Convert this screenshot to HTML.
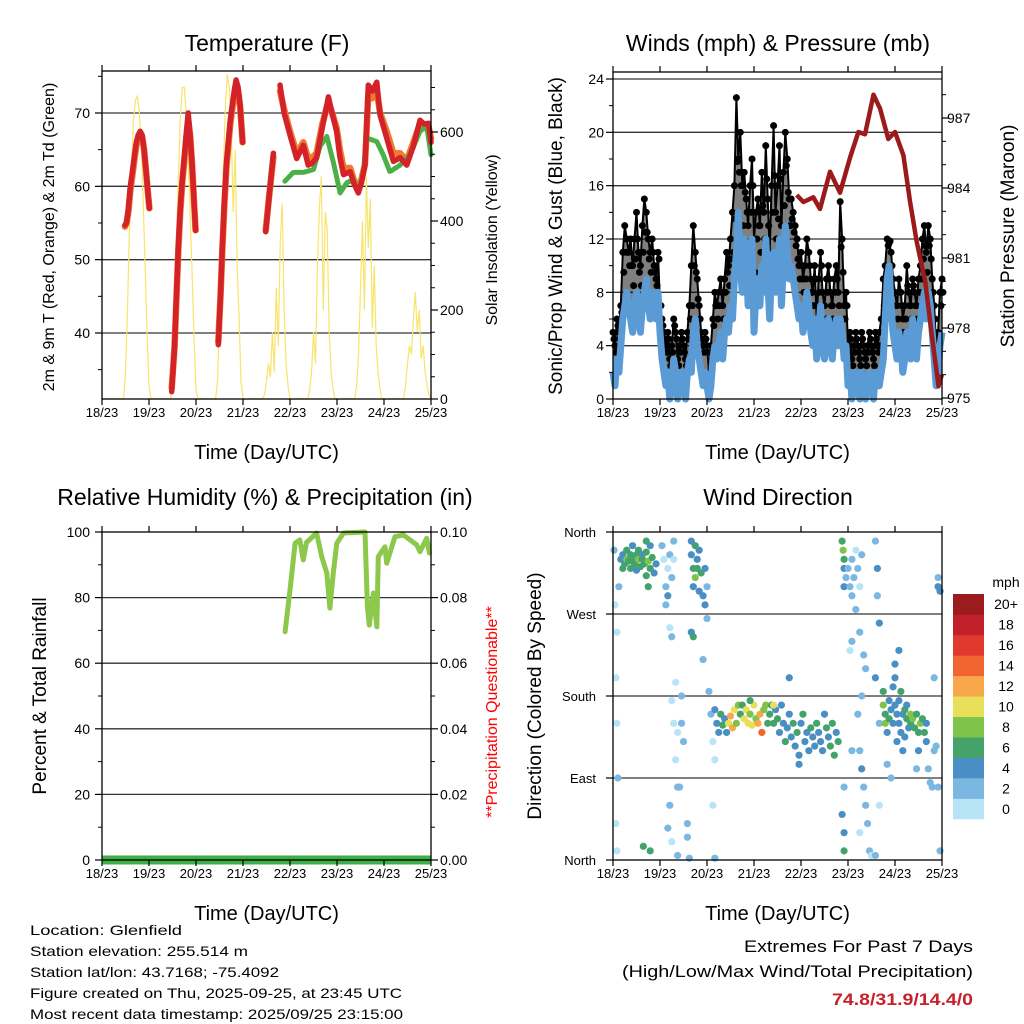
<!DOCTYPE html>
<html><head><meta charset="utf-8"><style>
html,body{margin:0;padding:0;background:#fff;}
svg{display:block;font-family:"Liberation Sans",Arial,sans-serif;}
</style></head><body>
<svg id="chart" width="1024" height="1024" viewBox="0 0 1024 1024" xmlns="http://www.w3.org/2000/svg">
<rect x="0" y="0" width="1024" height="1024" fill="#fff"/>
<g id="layer"></g>
<g font-size="14" fill="#000">
<text x="30" y="935" textLength="152" lengthAdjust="spacingAndGlyphs">Location: Glenfield</text>
<text x="30" y="956" textLength="218" lengthAdjust="spacingAndGlyphs">Station elevation: 255.514 m</text>
<text x="30" y="977" textLength="249" lengthAdjust="spacingAndGlyphs">Station lat/lon: 43.7168; -75.4092</text>
<text x="30" y="998" textLength="372" lengthAdjust="spacingAndGlyphs">Figure created on Thu, 2025-09-25, at 23:45 UTC</text>
<text x="30" y="1019" textLength="373" lengthAdjust="spacingAndGlyphs">Most recent data timestamp: 2025/09/25 23:15:00</text>
</g>
<g text-anchor="end">
<text x="973" y="952" font-size="17" textLength="229" lengthAdjust="spacingAndGlyphs">Extremes For Past 7 Days</text>
<text x="973" y="977" font-size="17" textLength="351" lengthAdjust="spacingAndGlyphs">(High/Low/Max Wind/Total Precipitation)</text>
<text x="973" y="1005" font-size="17" font-weight="bold" fill="#c8202a" textLength="141" lengthAdjust="spacingAndGlyphs">74.8/31.9/14.4/0</text>
</g>
</svg>
<script>
// ---------- DATA ----------
const dayLabels = ["18/23","19/23","20/23","21/23","22/23","23/23","24/23","25/23"];
// Temperature (hours since 18/23, deg F). null = gap
const tempHours = [11.7,12.5,13.5,14.5,15.5,16.5,17.5,18.5,19.5,20.5,21.5,22.5,23.5,24.2,null,
 35.6,37,38,39,40,41,42,43,44,45,46,47,47.8,null,
 59.4,60.5,61.5,62.5,63.5,64.5,65.5,66.5,67.5,68.5,69.5,70.5,71.8,null,
 83.6,85.5,87.5,null,90.9,93,96,99.4,102.8,105.3,107.5,109.6,112.5,115.6,117.5,119.8,121.5,123.3,126.7,128.5,130.9,132.5,134.3,136,138,140.3,142,145.4,148.8,152.2,155.6,159,162.4,164.5,166.7,168];
const tempRed = [54.7,55,57,60,62,64,66,67,67.5,67,65,62,59,57,null,
 32,38,45,52,57,61,64,67,70,67,63,58,54,null,
 38.4,45,52,58,63,66,69,71,73,74.5,73.5,71,66,null,
 53.8,59,64.5,null,73.8,70,67,63.8,65.6,62.9,63.2,63.9,68,72.2,70,67.5,64,61.6,62,60.5,59.1,60.5,62.9,73.8,73,74.2,69.7,66.6,63.4,63.9,62.9,65.5,69,68.5,68.6,66];
const tempOrange = [54.5,55,56.5,59.5,61.5,63.5,65.5,66.5,67,66.8,65,62,59,57,null,
 32.5,38,44.5,51.5,56.5,60.5,63.5,66.5,69,67,63,58,54,null,
 38.8,45,51.5,57.5,62.5,65.5,68.5,70.5,72,73.5,73,71,66,null,
 54,59,64,null,73,70.5,67.5,64.5,66,63.8,64,64.5,68.5,71.5,70,68,65,62.5,62.5,61,59.5,61,63,72.5,72,73,70,67.5,64.5,64.5,63.5,66,68.5,68.3,68.2,66.5];
const dewHours = [93.4,97.7,102.8,108,111.4,114.8,118.2,121.6,125,128.4,130.9,133.4,135.1,140.3,143.6,147,152.2,157.3,162.4,165.8,168];
const dewValues = [60.7,61.9,61.9,62.3,65.5,66.8,63.2,59.1,60.5,60.9,59.1,61.6,66.6,66.1,64.3,62,62.9,64.3,67.5,68.2,64.3];
// Solar insolation, hourly from h0..168
const solar = [0,0,0,0,0,0,0,0,0,0,0,0,60,200,380,520,620,670,680,650,570,450,300,150,30,
 0,0,0,0,0,0,0,0,0,0,0,50,180,350,500,630,700,700,640,530,420,280,140,20,
 0,0,0,0,0,0,0,0,0,0,40,180,360,520,660,730,700,600,420,560,300,180,40,
 0,0,0,0,0,0,0,0,0,0,0,10,40,80,50,150,60,250,120,350,440,200,80,30,0,
 0,0,0,0,0,0,0,0,0,20,60,150,80,300,430,500,200,420,380,150,60,20,
 0,0,0,0,0,0,0,0,0,0,0,30,100,250,400,200,500,340,450,160,300,120,60,20,
 0,0,0,0,0,0,0,0,0,0,0,0,30,80,120,100,180,240,150,200,90,120,60,30,10,0];
// Winds hourly h0..168 (mph)
const windSpeed = [2,1,3,2,4, 6,7,8,7, 6,5,7,8,6,5,7,8,9,7,6,8,7,6,8,5,
 3,2,1,2,0,1,3,2,0,1,2,1,0,2,3,2, 5,6,4,3,2,1, 2,1,0,1,3,4,3, 4,5,3,5,6,5,7,6,
 9,11,14,10,8,12,11,7,10,12,5,8, 9,7,10,8,12,9,6,10,11,8,9,12,7,10,13,11,9,
 10,9,8,7,6,7,5,6,8,7, 5,4,6,3,5,7,4,3,5,6,4,3,5,6,4,6,5,3,4,
 1,2,0,1,2,1,0,2,1,0,1,2,1,0,2,1,1,2,3, 6,9,10,7,5,4, 3,5,4,2,3,5,4,3,6,4,3,5,6,
 7,8,6,8,7,5, 3,1,2,4,5];
const windGust = [5,4,6,5,7, 11,13,12,11, 12,10,12,14,11,10,13,15,14,12,11,12,10,9,11,7,
 6,5,4,5,3,4,6,5,3,4,5,4,3,5,7,10, 13,11,9,7,5,4, 5,4,2,4,6,8,7, 8,9,7,9,11,10,12,14,
 16,22.6,18,20,16,17,15,13,16,18,12,14, 15,13,17,14,19,15,11,16,20.5,14,16,19,13,17,20,18,15,
 15,14,13,12,10,11,9,10,12,11, 9,8,10,6,9,11,8,7,9,10,8,7,9,10,8,14.8,12,7,8,
 4,5,3,4,5,4,3,5,4,3,4,5,4,3,5,4,5,6,9, 10,12,11.7,11,9,8, 7,9,8,6,7,10,8,7,9,8,7,9,10,
 12,13,11,13,12,9, 7,4,5,8,9];
const presHours = [93.8,97.2,102.3,105.7,110.8,115.9,121.0,125.3,128.7,133.0,136.4,140.6,144.0,148.3,151.7,155.1,159.4,162.8,166.2,167.9];
const presValues = [983.7,983.4,983.6,983.1,984.7,983.8,985.3,986.4,986.3,988.0,987.4,986.1,986.4,985.4,983.4,981.7,980.0,977.7,975.5,976.0];
// Relative humidity
const rhHours = [93.5,96,98.6,101,102.8,104.4,109.6,112.2,114.8,116.4,118.1,119.9,123.3,134.3,135.5,136.5,138.6,140.3,141.1,144.5,145.4,149.6,153.9,160.7,162.4,165.8,167.2];
const rhValues = [69.6,82.3,96.6,97.6,91.5,96.8,99.7,92.5,87.5,76.8,87.5,96.6,99.7,100,77.2,71.6,81.4,71.1,92.5,95.5,90.5,98.6,99.1,96.1,94,98.1,93.6];
const precipHours = [0,168];
const precipValues = [0,0];
// Wind direction scatter: hour, degrees, speed
const dirHours = [4,5,5,6,7,7,8,9,9,10,10,11,12,12,13,13,14,15,15,16,17,17,18,19,19,20,21,22,3,2,1.5,2,2.5,1.5,2,0.5,1,17,18,15.5,19,
 25,26,27,27,28,28,29,30,31,31,29,30,30,31,32,33,32,33,29,30,28,34,35,36,35,33,38,38,39,
 40,40,41,41,42,42,43,43,44,44,45,46,47,48,47,40,41,49,50,51,52,52,46,51,48,
 52,53,54,55,56,57,58,59,60,61,62,63,64,65,66,67,68,69,70,71,72,73,74,75,76,77,78,79,80,81,82,83,84,85,86,87,88,89,90,91,92,93,94,95,96,97,98,99,100,101,102,103,104,105,106,107,108,109,110,111,112,113,114,115,90,82,70,95,
 117,117.5,118,118,118,119,118,118,117,118,
 120,121,122,122,123,124,125,126,127,124,122,126,128,129,127,125,126,127,128,129,130,131,121,122,126,134,135,135,136,134,136,136,132,134,
 138,138,139,139,140,141,141,142,143,143,144,144,145,145,146,146,147,147,148,148,149,149,150,150,151,152,152,153,154,155,156,156,157,158,159,160,160,161,162,163,164,165,144,146,140,142,164,166,167,166,167,166,155];
const dirDegrees = [330,335,320,325,340,330,328,335,320,345,330,325,335,318,330,340,322,335,330,325,312,338,328,320,345,332,315,325,300,250,200,150,90,40,10,340,280,350,300,15,10,
 345,330,300,280,320,290,335,310,330,350,255,245,175,150,195,140,110,80,60,20,35,80,150,130,180,5,40,25,2,
 350,335,320,300,345,310,330,320,295,340,315,290,280,300,320,250,245,185,160,130,110,2,220,60,265,
 165,150,140,160,148,155,140,150,158,145,165,150,170,160,170,155,165,150,160,148,170,155,150,160,140,165,170,150,160,170,150,165,155,140,170,150,130,145,160,135,150,125,140,115,150,160,130,140,120,145,135,125,150,140,130,120,160,145,135,125,150,115,140,130,200,170,175,105,
 350,340,330,320,300,310,10,30,50,80,
 320,300,290,330,310,340,320,300,335,275,240,250,225,210,180,160,120,100,80,60,40,10,230,120,30,350,320,290,260,200,150,60,5,5,
 185,170,160,150,140,175,155,165,190,150,200,170,160,130,175,150,185,140,160,120,165,135,155,170,145,160,150,155,145,160,140,120,150,155,140,150,130,100,85,80,120,125,215,230,105,90,200,300,295,310,10,80,100];
const dirSpeeds = [4,5,6,7,6,8,6,7,6,5,6,7,6,5,8,6,6,4,7,6,6,7,8,6,5,6,5,4,2,1,1,1,2,1,1,2,1,6,6,6,6,
 2,1,2,2,1,4,2,2,1,2,1,2,1,1,1,1,1,2,2,1,2,2,2,2,2,2,2,2,2,
 4,4,6,4,6,8,4,6,4,4,6,4,4,2,4,4,6,2,2,1,1,2,2,1,2,
 4,4,4,6,6,4,4,10,12,12,10,8,8,6,6,10,10,10,8,10,10,8,12,12,14,8,8,6,6,6,6,4,6,4,4,4,6,4,4,4,6,4,6,4,4,6,4,4,4,6,4,4,6,4,4,4,4,6,4,6,6,6,4,6,4,10,6,4,
 6,8,6,4,4,2,6,4,4,2,
 2,2,2,2,2,1,2,1,2,2,2,2,2,2,2,2,2,4,2,2,2,2,1,2,1,2,4,2,4,4,2,1,1,2,
 6,8,6,8,4,4,6,4,4,4,4,4,4,4,4,4,6,4,4,4,6,4,6,4,4,8,6,8,6,6,6,4,8,6,6,4,4,2,2,2,2,2,4,4,2,2,2,4,4,2,2,2,2];
const speedLabels = ["0","2","4","6","8","10","12","14","16","18","20+"];
const speedColors = ["#b8e4f8","#7ab8e2","#4a8fc4","#44a36a","#7ec44a","#e8e05a","#f8a84a","#f06530","#e03a2e","#c0202a","#9b1b1e"];

// ---------- HELPERS ----------
const NS = "http://www.w3.org/2000/svg";
const layer = document.getElementById("layer");
function el(tag, attrs, parent) {
  const e = document.createElementNS(NS, tag);
  for (const k in attrs) e.setAttribute(k, attrs[k]);
  (parent || layer).appendChild(e);
  return e;
}
function txt(str, attrs, parent) { const t = el("text", attrs, parent); t.textContent = str; return t; }
const H = 168;
function makeX(x0, x1) { return h => x0 + (h / H) * (x1 - x0); }
function makeY(v0, v1, y0, y1) { return v => y0 + (v - v0) / (v1 - v0) * (y1 - y0); }
function pathFrom(hs, vs, X, Y) {
  let d = "", pen = false;
  for (let i = 0; i < hs.length; i++) {
    if (hs[i] === null || vs[i] === null) { pen = false; continue; }
    d += (pen ? "L" : "M") + X(hs[i]).toFixed(1) + "," + Y(vs[i]).toFixed(1);
    pen = true;
  }
  return d;
}
function frame(g, x0, y0, x1, y1, X) {
  el("rect", {x: x0, y: y0, width: x1 - x0, height: y1 - y0, fill: "none", stroke: "#000", "stroke-width": 1.3}, g);
  for (let d = 0; d <= 7; d++) {
    const x = X(d * 24);
    el("line", {x1: x, y1: y1, x2: x, y2: y1 + 6, stroke: "#000", "stroke-width": 1.2}, g);
    el("line", {x1: x, y1: y0, x2: x, y2: y0 - 6, stroke: "#000", "stroke-width": 1.2}, g);
    const t = txt(dayLabels[d], {x: x, y: y1 + 18, "font-size": 13, "text-anchor": "middle"}, g);
    
    
  }
  const xt = txt("Time (Day/UTC)", {x: (x0 + x1) / 2, y: y1 + 60, "font-size": 20, "text-anchor": "middle"}, g);
  
  
}
function yTicks(g, Y, x, side, majors, labels, minors, fs, lx) {
  const dir = side === "left" ? -1 : 1;
  minors.forEach(v => el("line", {x1: x, y1: Y(v), x2: x + dir * 4, y2: Y(v), stroke: "#000", "stroke-width": 1}, g));
  majors.forEach((v, i) => {
    el("line", {x1: x, y1: Y(v), x2: x + dir * 7, y2: Y(v), stroke: "#000", "stroke-width": 1.2}, g);
    const t = txt(labels[i], {x: lx, y: Y(v) + 5, "font-size": fs, "text-anchor": side === "left" ? "end" : "start"}, g);
    
    
  });
}
function grid(g, Y, vals, x0, x1) {
  vals.forEach(v => el("line", {x1: x0, y1: Y(v), x2: x1, y2: Y(v), stroke: "#333", "stroke-width": 1.3}, g));
}
function title(g, s, x, y) {
  const t = txt(s, {x: x, y: y, "font-size": 23, "text-anchor": "middle"}, g);
  
  
}
function vlabel(g, s, x, y, fs, name, fill) {
  const t = txt(s, {x: 0, y: 0, "font-size": fs, "text-anchor": "middle", transform: `translate(${x},${y}) rotate(-90)`, fill: fill || "#000"}, g);
  
  
}
const rng = (a, b, s) => { const r = []; for (let v = a; v <= b + 1e-9; v += s) r.push(+v.toFixed(3)); return r; };

// ---------- PANEL 1: TEMPERATURE ----------
{
  const g = el("g", {});
  
  
  const x0 = 102, x1 = 431, y0 = 71, y1 = 399;
  const X = makeX(x0, x1), Y = makeY(31, 70, 399, 113), YS = makeY(0, 600, 399, 132);
  grid(g, Y, [40, 50, 60, 70], x0, x1);
  const sol = el("path", {d: pathFrom(solar.map((v, i) => i), solar, X, YS), fill: "none", stroke: "#f7e46a", "stroke-width": 1.2}, g);
  
  
  const or = el("path", {d: pathFrom(tempHours, tempOrange, X, Y), fill: "none", stroke: "#f07a30", "stroke-width": 6.5, "stroke-linejoin": "round", "stroke-linecap": "round"}, g);
  
  
  const dw = el("path", {d: pathFrom(dewHours, dewValues, X, Y), fill: "none", stroke: "#4cb048", "stroke-width": 5, "stroke-linejoin": "round", "stroke-linecap": "round", "stroke-dasharray": "3 1.5"}, g);
  
  
  const rd = el("path", {d: pathFrom(tempHours, tempRed, X, Y), fill: "none", stroke: "#d32228", "stroke-width": 5.5, "stroke-linejoin": "round", "stroke-linecap": "round"}, g);
  
  
  frame(g, x0, y0, x1, y1, X);
  yTicks(g, Y, x0, "left", [40, 50, 60, 70], ["40", "50", "60", "70"], [35, 45, 55, 65, 75], 14, 90);
  yTicks(g, YS, x1, "right", [0, 200, 400, 600], ["0", "200", "400", "600"], rng(50, 700, 50), 14, 440);
  title(g, "Temperature (F)", 267, 51);
  vlabel(g, "2m & 9m T (Red, Orange) & 2m Td (Green)", 54, 237, 16, "left-y-axis-title");
  vlabel(g, "Solar Insolation (Yellow)", 497, 240, 16, "right-y-axis-title");
}

// ---------- PANEL 2: WINDS ----------
{
  const g = el("g", {});
  
  
  const x0 = 613, x1 = 942, y0 = 72, y1 = 399;
  const X = makeX(x0, x1), Y = makeY(0, 24, 399, 79), YP = makeY(975, 987, 398, 118);
  grid(g, Y, [4, 8, 12, 16, 20, 24], x0, x1);
  const hrs = windSpeed.map((v, i) => i);
  // gust band between wind and gust
  let band = pathFrom(hrs, windGust, X, Y);
  for (let i = windSpeed.length - 1; i >= 0; i--) band += "L" + X(i).toFixed(1) + "," + Y(windSpeed[i]).toFixed(1);
  const bd = el("path", {d: band + "Z", fill: "#000", "fill-opacity": 0.5, stroke: "none"}, g);
  
  
  const gl = el("path", {d: pathFrom(hrs, windGust, X, Y), fill: "none", stroke: "#000", "stroke-width": 2}, g);
  
  
  windGust.forEach((v, i) => {
    const c = el("circle", {cx: X(i), cy: Y(v), r: 3.5, fill: "#000"}, g);
    
    
    const c2 = el("circle", {cx: X(i + 0.5), cy: Y((v + windSpeed[i]) / 2 + 1), r: 3.5, fill: "#000"}, g);
    
    
  });
  const wl = el("path", {d: pathFrom(hrs, windSpeed, X, Y), fill: "none", stroke: "#5a9bd5", "stroke-width": 7, "stroke-linejoin": "round"}, g);
  
  
  const pl = el("path", {d: pathFrom(presHours, presValues, X, YP), fill: "none", stroke: "#9c1a1c", "stroke-width": 4.5, "stroke-linejoin": "round"}, g);
  
  
  frame(g, x0, y0, x1, y1, X);
  yTicks(g, Y, x0, "left", [0, 4, 8, 12, 16, 20, 24], ["0", "4", "8", "12", "16", "20", "24"], rng(2, 22, 4), 14, 604);
  yTicks(g, YP, x1, "right", [975, 978, 981, 984, 987], ["975", "978", "981", "984", "987"], rng(976, 988, 1).filter(v => v % 3 !== 0), 14, 947);
  title(g, "Winds (mph) & Pressure (mb)", 778, 51);
  vlabel(g, "Sonic/Prop Wind & Gust (Blue, Black)", 562, 236, 19, "left-y-axis-title");
  vlabel(g, "Station Pressure (Maroon)", 1014, 236, 19, "right-y-axis-title");
}

// ---------- PANEL 3: RH & PRECIP ----------
{
  const g = el("g", {});
  
  
  const x0 = 102, x1 = 431, y0 = 532, y1 = 860;
  const X = makeX(x0, x1), Y = makeY(0, 100, 860, 532), YR = makeY(0, 0.1, 860, 532);
  grid(g, Y, [20, 40, 60, 80], x0, x1);
  const pr = el("path", {d: pathFrom(precipHours, precipValues, X, YR), fill: "none", stroke: "#3fae49", "stroke-width": 9}, g);
  
  
  const rl = el("path", {d: pathFrom(rhHours, rhValues, X, Y), fill: "none", stroke: "#8cc84b", "stroke-width": 5, "stroke-linejoin": "round", "stroke-linecap": "round"}, g);
  
  
  frame(g, x0, y0, x1, y1, X);
  yTicks(g, Y, x0, "left", [0, 20, 40, 60, 80, 100], ["0", "20", "40", "60", "80", "100"], rng(10, 90, 20), 14, 90);
  yTicks(g, YR, x1, "right", [0, 0.02, 0.04, 0.06, 0.08, 0.1], ["0.00", "0.02", "0.04", "0.06", "0.08", "0.10"], rng(0.01, 0.09, 0.02), 14, 440);
  title(g, "Relative Humidity (%) & Precipitation (in)", 265, 505);
  vlabel(g, "Percent & Total Rainfall", 46, 696, 19, "left-y-axis-title");
  vlabel(g, "**Precipitation Questionable**", 497, 712, 16, "right-y-axis-title", "#ff0000");
}

// ---------- PANEL 4: WIND DIRECTION ----------
{
  const g = el("g", {});
  
  
  const x0 = 613, x1 = 942, y0 = 532, y1 = 860;
  const X = makeX(x0, x1), Y = makeY(0, 360, 860, 532);
  grid(g, Y, [90, 180, 270], x0, x1);
  for (let i = 0; i < dirHours.length; i++) {
    const ci = Math.min(10, Math.floor(dirSpeeds[i] / 2));
    const c = el("circle", {cx: X(dirHours[i]), cy: Y(dirDegrees[i]), r: 3.6, fill: speedColors[ci]}, g);
    
    
  }
  frame(g, x0, y0, x1, y1, X);
  yTicks(g, Y, x0, "left", [0, 90, 180, 270, 360], ["North", "East", "South", "West", "North"], [], 13, 596);
  title(g, "Wind Direction", 778, 505);
  vlabel(g, "Direction (Colored By Speed)", 541, 696, 19, "left-y-axis-title");
  const cb = el("g", {}, g);
  
  
  const bh = 225 / 11;
  for (let i = 0; i < 11; i++) {
    const yy = 819 - (i + 1) * bh;
    const r = el("rect", {x: 953, y: yy, width: 31, height: bh + 0.3, fill: speedColors[i]}, cb);
    
    
    const t = txt(speedLabels[i], {x: 1006, y: yy + bh / 2 + 5, "font-size": 14, "text-anchor": "middle"}, cb);
    
    
  }
  const u = txt("mph", {x: 1006, y: 587, "font-size": 14, "text-anchor": "middle"}, cb);
  
  
}
</script>
</body></html>
